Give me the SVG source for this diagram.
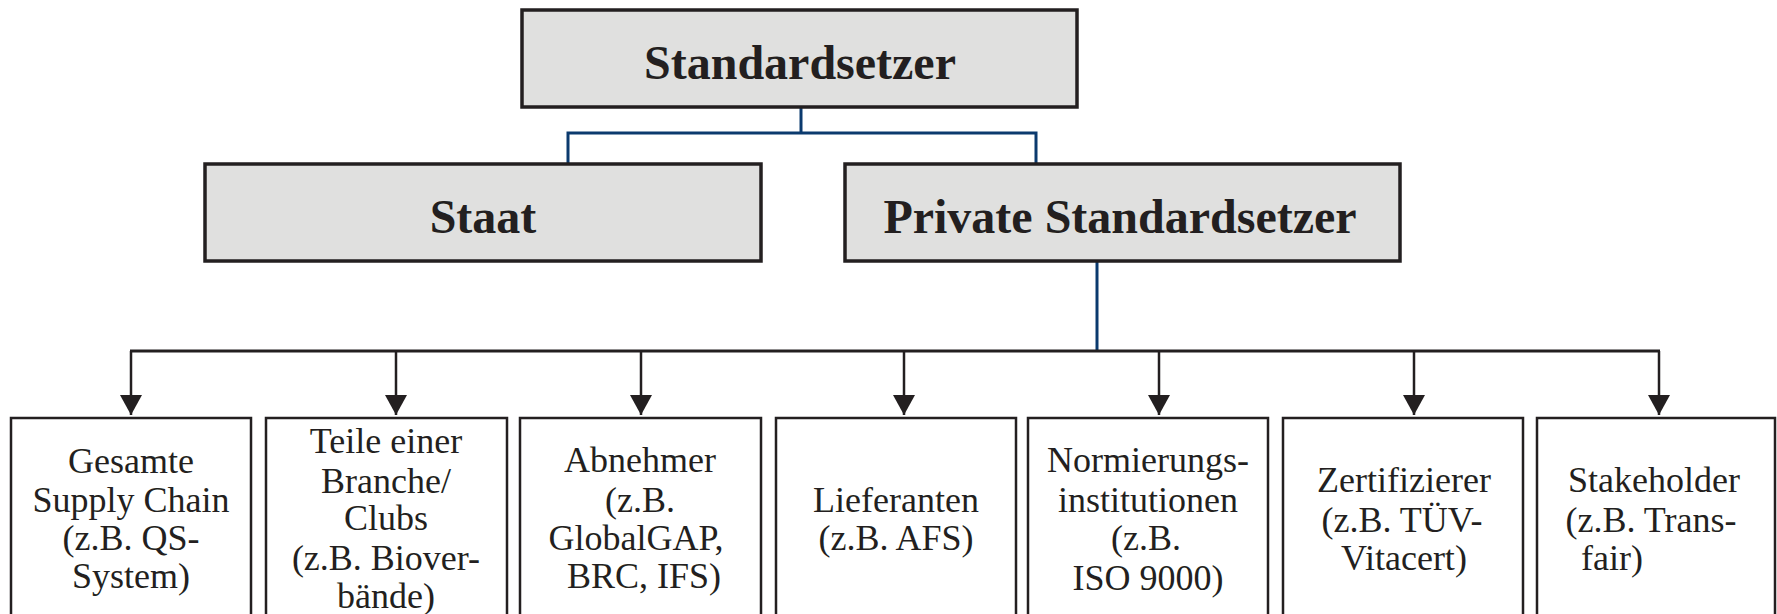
<svg xmlns="http://www.w3.org/2000/svg" width="1777" height="614" viewBox="0 0 1777 614">
<defs>
<style>
.hdr rect{fill:#e0e0df;stroke:#231f20;stroke-width:3.5}
.hdr text{font-family:"Liberation Serif","Times New Roman",serif;font-weight:bold;font-size:48px;fill:#231f20;text-anchor:middle}
.leaf rect{fill:#ffffff;stroke:#231f20;stroke-width:2.5}
.leaf text{font-family:"Liberation Serif","Times New Roman",serif;font-size:36px;fill:#231f20;text-anchor:middle}
.blue{fill:none;stroke:#0b3a6e;stroke-width:3}
.blk{fill:none;stroke:#231f20;stroke-width:3}
.arr{fill:none;stroke:#231f20;stroke-width:2.5;marker-end:url(#ah)}
</style>
<marker id="ah" markerUnits="userSpaceOnUse" markerWidth="20" markerHeight="22" refX="20" refY="11" orient="auto" viewBox="0 0 20 22">
<path d="M0,0 L20,11 L0,22 Z" fill="#231f20"/>
</marker>
</defs>
<rect width="1777" height="614" fill="#ffffff"/>
<g id="connectors">
<polyline class="blue" points="801,107 801,133"/>
<polyline class="blue" points="568,163 568,133 1036,133 1036,163"/>
<polyline class="blue" points="1097,261 1097,351"/>
<line class="blk" x1="130" y1="351" x2="1660" y2="351"/>
<line class="arr" x1="131" y1="351" x2="131" y2="415"/>
<line class="arr" x1="396" y1="351" x2="396" y2="415"/>
<line class="arr" x1="641" y1="351" x2="641" y2="415"/>
<line class="arr" x1="904" y1="351" x2="904" y2="415"/>
<line class="arr" x1="1159" y1="351" x2="1159" y2="415"/>
<line class="arr" x1="1414" y1="351" x2="1414" y2="415"/>
<line class="arr" x1="1659" y1="351" x2="1659" y2="415"/>
</g>
<g id="standardsetzer" class="hdr">
<rect x="522" y="10" width="555" height="97"/>
<text x="800" y="79">Standardsetzer</text>
</g>
<g id="staat" class="hdr">
<rect x="205" y="164" width="556" height="97"/>
<text x="483" y="233">Staat</text>
</g>
<g id="private" class="hdr">
<rect x="845" y="164" width="555" height="97"/>
<text x="1120" y="233">Private Standardsetzer</text>
</g>
<g id="gesamte" class="leaf">
<rect x="11" y="418" width="240" height="220"/>
<text x="131" y="473">Gesamte</text>
<text x="131" y="512">Supply Chain</text>
<text x="131" y="550">(z.B. QS-</text>
<text x="131" y="588">System)</text>
</g>
<g id="teile" class="leaf">
<rect x="266" y="418" width="241" height="220"/>
<text x="386" y="453">Teile einer</text>
<text x="386" y="493">Branche/</text>
<text x="386" y="530">Clubs</text>
<text x="386" y="570">(z.B. Biover-</text>
<text x="386" y="608">bände)</text>
</g>
<g id="abnehmer" class="leaf">
<rect x="520" y="418" width="241" height="220"/>
<text x="640" y="472">Abnehmer</text>
<text x="640" y="512">(z.B.</text>
<text x="636" y="550">GlobalGAP,</text>
<text x="644" y="588">BRC, IFS)</text>
</g>
<g id="lieferanten" class="leaf">
<rect x="776" y="418" width="240" height="220"/>
<text x="896" y="512">Lieferanten</text>
<text x="896" y="550">(z.B. AFS)</text>
</g>
<g id="normierung" class="leaf">
<rect x="1028" y="418" width="240" height="220"/>
<text x="1148" y="472">Normierungs-</text>
<text x="1148" y="512">institutionen</text>
<text x="1146" y="550">(z.B.</text>
<text x="1148" y="590">ISO 9000)</text>
</g>
<g id="zertifizierer" class="leaf">
<rect x="1283" y="418" width="240" height="220"/>
<text x="1404" y="492">Zertifizierer</text>
<text x="1402" y="532">(z.B. TÜV-</text>
<text x="1404" y="570">Vitacert)</text>
</g>
<g id="stakeholder" class="leaf">
<rect x="1537" y="418" width="238" height="220"/>
<text x="1654" y="492">Stakeholder</text>
<text x="1651" y="532">(z.B. Trans-</text>
<text x="1612" y="570">fair)</text>
</g>
</svg>
